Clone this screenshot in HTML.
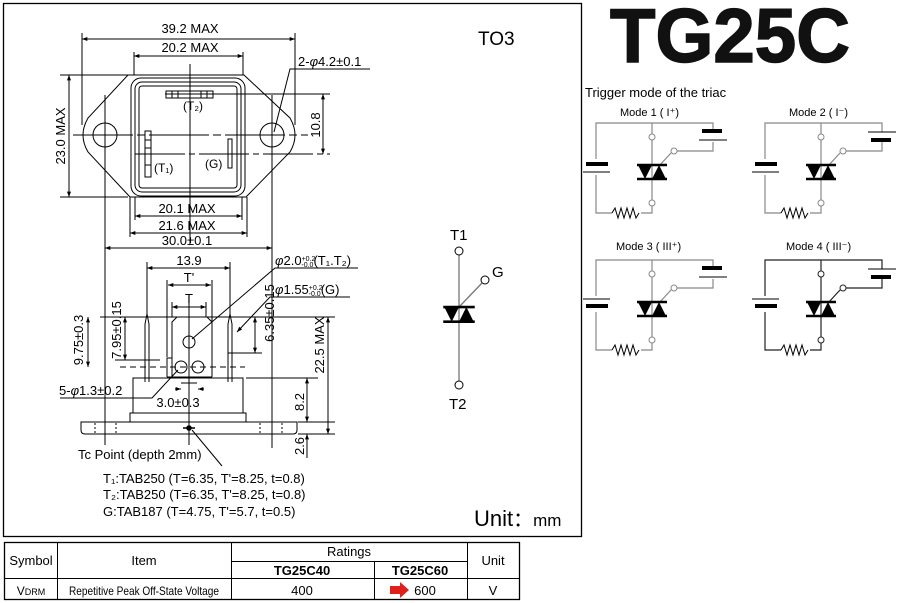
<!DOCTYPE html>
<html><head><meta charset="utf-8"><style>
html,body{margin:0;padding:0;background:#fff;}
svg{display:block;font-family:"Liberation Sans",Arial,sans-serif;}
</style></head><body>
<svg width="898" height="603" viewBox="0 0 898 603" xmlns="http://www.w3.org/2000/svg">
<defs>
<marker id="a" viewBox="0 0 8 6" refX="8" refY="3" markerWidth="6" markerHeight="4" orient="auto-start-reverse"><path d="M0,0L8,3L0,6z" fill="#000"/></marker>
<g id="triac">
<line x1="-15" y1="0" x2="15" y2="0" stroke="#000" stroke-width="2.5"/>
<line x1="-15" y1="14" x2="15" y2="14" stroke="#000" stroke-width="2.5"/>
<path d="M-14,0L0,0L-7,14z" fill="#000"/>
<path d="M0,14L14,14L7,0z" fill="#000"/>
</g>
<g id="zz"><path d="M0,0l3,-5l3,10l3,-10l3,10l3,-10l3,10l3,-10l3,10l3,-5" fill="none" stroke="#000" stroke-width="1"/></g>
</defs>
<rect x="3.5" y="3.5" width="578" height="533" fill="none" stroke="#000" stroke-width="1.3"/>

<g fill="none" stroke="#000" stroke-width="1">
<path d="M128,75 L244,75 L290,118 Q300,135 290,152 L246,197 L130,197 L88,152 Q78,135 88,118 Z"/>
<rect x="131" y="78" width="114" height="118" rx="10"/>
<rect x="135" y="82" width="106" height="110" rx="7"/>
<rect x="139" y="86" width="98" height="102" rx="3"/>
<circle cx="105" cy="135" r="12"/><circle cx="272" cy="135" r="12"/>
<rect x="166" y="91" width="47" height="7"/>
<line x1="172" y1="91" x2="172" y2="98"/><line x1="178" y1="91" x2="178" y2="98"/><line x1="201" y1="91" x2="201" y2="98"/><line x1="207" y1="91" x2="207" y2="98"/>
<rect x="145" y="131" width="6" height="46"/>
<line x1="145" y1="140" x2="151" y2="140"/><line x1="145" y1="148" x2="151" y2="148"/><line x1="145" y1="165" x2="151" y2="165"/>
<rect x="228" y="139" width="4" height="29"/>
<line x1="190" y1="64" x2="190" y2="245"/>
<line x1="73" y1="135" x2="308" y2="135" stroke-dasharray="60,4,8,4"/>
<line x1="135" y1="154" x2="330" y2="154" stroke-dasharray="50,4,6,4"/>
<line x1="165" y1="94" x2="330" y2="94"/>
<line x1="60" y1="75" x2="128" y2="75"/><line x1="60" y1="197" x2="128" y2="197"/>
<line x1="82" y1="33" x2="82" y2="125"/><line x1="295" y1="33" x2="295" y2="125"/>
<line x1="134" y1="52" x2="134" y2="75"/><line x1="243" y1="52" x2="243" y2="75"/>
<line x1="135" y1="197" x2="135" y2="220"/><line x1="242" y1="197" x2="242" y2="220"/>
<line x1="130" y1="197" x2="130" y2="237"/><line x1="247" y1="197" x2="247" y2="237"/>
<line x1="105" y1="95" x2="105" y2="445"/><line x1="272" y1="95" x2="272" y2="448"/>
<line x1="82" y1="39" x2="295" y2="39" marker-start="url(#a)" marker-end="url(#a)"/>
<line x1="134" y1="56" x2="243" y2="56" marker-start="url(#a)" marker-end="url(#a)"/>
<line x1="69" y1="75" x2="69" y2="197" marker-start="url(#a)" marker-end="url(#a)"/>
<line x1="323" y1="94" x2="323" y2="154" marker-start="url(#a)" marker-end="url(#a)"/>
<line x1="135" y1="216" x2="242" y2="216" marker-start="url(#a)" marker-end="url(#a)"/>
<line x1="130" y1="233" x2="247" y2="233" marker-start="url(#a)" marker-end="url(#a)"/>
<line x1="105" y1="248" x2="272" y2="248" marker-start="url(#a)" marker-end="url(#a)"/>
<path d="M370,69 L290,69 L274,132"/>

<line x1="147" y1="262" x2="147" y2="317"/><line x1="230" y1="262" x2="230" y2="317"/>
<line x1="167" y1="280" x2="167" y2="357"/><line x1="212" y1="280" x2="212" y2="357"/>
<line x1="172" y1="302" x2="172" y2="317"/><line x1="206" y1="302" x2="206" y2="317"/>
<line x1="147" y1="268" x2="230" y2="268" marker-start="url(#a)" marker-end="url(#a)"/>
<line x1="168" y1="285" x2="211" y2="285" marker-start="url(#a)" marker-end="url(#a)"/>
<line x1="172" y1="307" x2="206" y2="307" marker-start="url(#a)" marker-end="url(#a)"/>
<path d="M145,382 L145,324 L147,314 L149,324 L149,382"/>
<path d="M228,382 L228,324 L230,314 L232,324 L232,382"/>
<path d="M172,377 L172,358 L167,358 L167,377 M172,358 L172,322 L177,317 L207,317 L212,322 L212,377"/>
<line x1="167" y1="377" x2="212" y2="377"/>
<circle cx="189" cy="342" r="6"/><circle cx="181" cy="367" r="6"/><circle cx="198" cy="367" r="6"/>
<line x1="189" y1="300" x2="189" y2="383"/>
<rect x="133" y="378" width="110" height="35"/>
<rect x="130" y="413" width="116" height="9"/>
<path d="M81,422 L297,422 L297,430 Q297,434 293,434 L85,434 Q81,434 81,430 Z"/>
<line x1="95" y1="423" x2="95" y2="433" stroke-dasharray="2,2"/><line x1="116" y1="423" x2="116" y2="433" stroke-dasharray="2,2"/>
<line x1="260" y1="423" x2="260" y2="433" stroke-dasharray="2,2"/><line x1="282" y1="423" x2="282" y2="433" stroke-dasharray="2,2"/>
<line x1="189" y1="380" x2="189" y2="445"/>
<line x1="181" y1="383" x2="197" y2="383"/>
<line x1="100" y1="317" x2="335" y2="317"/>
<line x1="120" y1="367" x2="245" y2="367" stroke-dasharray="6,4"/>
<line x1="115" y1="360" x2="160" y2="360"/><line x1="228" y1="353" x2="262" y2="353"/>
<line x1="246" y1="378" x2="318" y2="378"/>
<line x1="298" y1="422" x2="335" y2="422"/><line x1="298" y1="434" x2="335" y2="434"/>
<line x1="88" y1="317" x2="88" y2="367" marker-start="url(#a)" marker-end="url(#a)"/>
<line x1="125" y1="317" x2="125" y2="360" marker-start="url(#a)" marker-end="url(#a)"/>
<line x1="255" y1="317" x2="255" y2="353" marker-start="url(#a)" marker-end="url(#a)"/>
<line x1="328" y1="317" x2="328" y2="434" marker-start="url(#a)" marker-end="url(#a)"/>
<line x1="307" y1="378" x2="307" y2="422" marker-start="url(#a)" marker-end="url(#a)"/>
<line x1="307" y1="434" x2="307" y2="458"/>
<line x1="307" y1="444" x2="307" y2="434" marker-end="url(#a)"/>
<line x1="175" y1="389" x2="181" y2="389" marker-end="url(#a)"/><line x1="204" y1="389" x2="198" y2="389" marker-end="url(#a)"/>
<path d="M358,268 L275,268 L192,339" />
<path d="M350,297 L270,297 L237,332" marker-end="url(#a)"/>
<path d="M60,398 L152,398 L178,370"/>
<path d="M222,466 L192,430"/>
</g>
<g stroke="#000" stroke-width="1.5"><line x1="183" y1="428" x2="195" y2="428"/><circle cx="189" cy="428" r="2" fill="#000"/></g>

<g font-size="13" fill="#000">
<text x="190" y="33" text-anchor="middle">39.2 MAX</text>
<text x="190" y="52" text-anchor="middle">20.2 MAX</text>
<text x="298" y="66">2-<tspan font-style="italic">φ</tspan>4.2±0.1</text>
<text x="193" y="110" text-anchor="middle" font-size="12">(T₂)</text>
<text x="154" y="172" font-size="12">(T₁)</text>
<text x="205" y="168" font-size="12">(G)</text>
<text transform="translate(65,136) rotate(-90)" text-anchor="middle">23.0 MAX</text>
<text transform="translate(320,125) rotate(-90)" text-anchor="middle">10.8</text>
<text x="187" y="213" text-anchor="middle">20.1 MAX</text>
<text x="187" y="230" text-anchor="middle">21.6 MAX</text>
<text x="187" y="245" text-anchor="middle">30.0±0.1</text>
<text x="189" y="265" text-anchor="middle">13.9</text>
<text x="189" y="282" text-anchor="middle">T'</text>
<text x="189" y="303" text-anchor="middle">T</text>
<text x="275" y="265"><tspan font-style="italic">φ</tspan>2.0<tspan font-size="7" dy="-4">+0.2</tspan><tspan font-size="7" dx="-14" dy="6">-0.0</tspan><tspan dy="-2">(T₁.T₂)</tspan></text>
<text x="275" y="294"><tspan font-style="italic">φ</tspan>1.55<tspan font-size="7" dy="-4">+0.2</tspan><tspan font-size="7" dx="-14" dy="6">-0.0</tspan><tspan dy="-2">(G)</tspan></text>
<text transform="translate(83,340) rotate(-90)" text-anchor="middle">9.75±0.3</text>
<text transform="translate(121,330) rotate(-90)" text-anchor="middle">7.95±0.15</text>
<text transform="translate(274,313) rotate(-90)" text-anchor="middle">6.35±0.15</text>
<text transform="translate(324,345) rotate(-90)" text-anchor="middle">22.5 MAX</text>
<text transform="translate(304,402) rotate(-90)" text-anchor="middle">8.2</text>
<text transform="translate(304,446) rotate(-90)" text-anchor="middle">2.6</text>
<text x="59" y="395">5-<tspan font-style="italic">φ</tspan>1.3±0.2</text>
<text x="178" y="407" text-anchor="middle">3.0±0.3</text>
<text x="78" y="459">Tc Point (depth 2mm)</text>
<text x="103" y="483">T₁:TAB250 (T=6.35, T'=8.25, t=0.8)</text>
<text x="103" y="499">T₂:TAB250 (T=6.35, T'=8.25, t=0.8)</text>
<text x="103" y="516">G:TAB187 (T=4.75, T'=5.7, t=0.5)</text>
</g>
<text x="478" y="45" font-size="19">TO3</text>
<text x="474" y="526" font-size="22">Unit<tspan font-size="20">：</tspan><tspan font-size="17">mm</tspan></text>

<g stroke="#777" stroke-width="1.3" fill="none">
<line x1="459" y1="255" x2="459" y2="381"/>
<line x1="459" y1="307" x2="482" y2="283"/>
</g>
<g stroke="#000" fill="#fff" stroke-width="1"><circle cx="459" cy="251" r="4"/><circle cx="485" cy="280" r="4"/><circle cx="459" cy="385" r="4"/></g>
<g transform="translate(459,307) scale(1.05)"><use href="#triac"/></g>
<text x="450" y="240" font-size="15">T1</text>
<text x="492" y="277" font-size="15">G</text>
<text x="449" y="409" font-size="15">T2</text>

<text x="610" y="62" font-size="76" font-weight="bold" textLength="240" lengthAdjust="spacingAndGlyphs" fill="#111" stroke="#111" stroke-width="1.5">TG25C</text>
<text x="585" y="97" font-size="13">Trigger mode of the triac</text>

<g>
<g stroke="#888" stroke-width="1.2" fill="none">
<polyline points="596,159 596,123 713,123 713,130"/>
<polyline points="596,175 596,213 612,213"/>
<polyline points="641,213 652,213 652,206"/>
<line x1="652" y1="123" x2="652" y2="134"/>
<line x1="652" y1="140" x2="652" y2="200"/>
<line x1="659" y1="166" x2="671" y2="153"/>
<polyline points="676,151 713,151 713,142"/>
</g>
<g fill="#000"><rect x="586" y="162" width="22" height="4"/><rect x="702" y="129" width="20" height="4"/></g>
<line x1="583" y1="172" x2="610" y2="172" stroke="#000"/><line x1="699" y1="140" x2="727" y2="140" stroke="#000"/>
<g transform="translate(612,213)"><use href="#zz"/></g>
<g transform="translate(652,165)"><use href="#triac"/></g>
<g stroke="#888" fill="#fff"><circle cx="652" cy="137" r="3"/><circle cx="652" cy="203" r="3"/><circle cx="674" cy="151" r="3"/></g>
</g>
<text x="620" y="116" font-size="11">Mode 1 ( I⁺)</text>
<g transform="translate(169,0)">
<g stroke="#888" stroke-width="1.2" fill="none">
<polyline points="596,159 596,123 713,123 713,132"/>
<polyline points="596,175 596,213 612,213"/>
<polyline points="641,213 652,213 652,206"/>
<line x1="652" y1="123" x2="652" y2="134"/>
<line x1="652" y1="140" x2="652" y2="200"/>
<line x1="659" y1="166" x2="671" y2="153"/>
<polyline points="676,151 713,151 713,142"/>
</g>
<g fill="#000"><rect x="586" y="162" width="22" height="4"/><rect x="702" y="138" width="20" height="4"/></g>
<line x1="583" y1="172" x2="610" y2="172" stroke="#000"/><line x1="699" y1="132" x2="727" y2="132" stroke="#000"/>
<g transform="translate(612,213)"><use href="#zz"/></g>
<g transform="translate(652,165)"><use href="#triac"/></g>
<g stroke="#888" fill="#fff"><circle cx="652" cy="137" r="3"/><circle cx="652" cy="203" r="3"/><circle cx="674" cy="151" r="3"/></g>
</g>
<text x="789" y="116" font-size="11">Mode 2 ( I⁻)</text>
<g transform="translate(0,137)">
<g stroke="#888" stroke-width="1.2" fill="none">
<polyline points="596,159 596,123 713,123 713,130"/>
<polyline points="596,175 596,213 612,213"/>
<polyline points="641,213 652,213 652,206"/>
<line x1="652" y1="123" x2="652" y2="134"/>
<line x1="652" y1="140" x2="652" y2="200"/>
<line x1="659" y1="166" x2="671" y2="153"/>
<polyline points="676,151 713,151 713,142"/>
</g>
<g fill="#000"><rect x="586" y="167" width="22" height="4"/><rect x="702" y="129" width="20" height="4"/></g>
<line x1="583" y1="162" x2="610" y2="162" stroke="#000"/><line x1="699" y1="140" x2="727" y2="140" stroke="#000"/>
<g transform="translate(612,213)"><use href="#zz"/></g>
<g transform="translate(652,165)"><use href="#triac"/></g>
<g stroke="#888" fill="#fff"><circle cx="652" cy="137" r="3"/><circle cx="652" cy="203" r="3"/><circle cx="674" cy="151" r="3"/></g>
</g>
<text x="616" y="250" font-size="11">Mode 3 ( III⁺)</text>
<g transform="translate(169,137)">
<g stroke="#222" stroke-width="1.2" fill="none">
<polyline points="596,159 596,123 713,123 713,132"/>
<polyline points="596,175 596,213 612,213"/>
<polyline points="641,213 652,213 652,206"/>
<line x1="652" y1="123" x2="652" y2="134"/>
<line x1="652" y1="140" x2="652" y2="200"/>
<line x1="659" y1="166" x2="671" y2="153"/>
<polyline points="676,151 713,151 713,142"/>
</g>
<g fill="#000"><rect x="586" y="167" width="22" height="4"/><rect x="702" y="138" width="20" height="4"/></g>
<line x1="583" y1="162" x2="610" y2="162" stroke="#000"/><line x1="699" y1="132" x2="727" y2="132" stroke="#000"/>
<g transform="translate(612,213)"><use href="#zz"/></g>
<g transform="translate(652,165)"><use href="#triac"/></g>
<g stroke="#222" fill="#fff"><circle cx="652" cy="137" r="3"/><circle cx="652" cy="203" r="3"/><circle cx="674" cy="151" r="3"/></g>
</g>
<text x="786" y="250" font-size="11">Mode 4 ( III⁻)</text>

<g stroke="#000" stroke-width="1" fill="none">
<rect x="4.5" y="542.5" width="515" height="57" stroke-width="1.3"/>
<line x1="57.5" y1="542" x2="57.5" y2="600"/>
<line x1="231.5" y1="542" x2="231.5" y2="600"/>
<line x1="467.5" y1="542" x2="467.5" y2="600"/>
<line x1="374.5" y1="561" x2="374.5" y2="600"/>
<line x1="231" y1="561.5" x2="467" y2="561.5"/>
<line x1="4" y1="578.5" x2="520" y2="578.5"/>
</g>
<g font-size="13" text-anchor="middle">
<text x="31" y="565">Symbol</text>
<text x="144" y="565">Item</text>
<text x="349" y="556">Ratings</text>
<text x="302" y="575" font-weight="bold">TG25C40</text>
<text x="420" y="575" font-weight="bold">TG25C60</text>
<text x="493" y="565">Unit</text>
<text x="31" y="595" font-size="12">V<tspan font-size="9">DRM</tspan></text>
<text x="144" y="595" font-size="12" textLength="150" lengthAdjust="spacingAndGlyphs">Repetitive Peak Off-State Voltage</text>
<text x="302" y="595">400</text>
<text x="425" y="595">600</text>
<text x="493" y="595">V</text>
</g>
<path d="M390,586 L400,586 L400,582 L409,590 L400,598 L400,594 L390,594 Z" fill="#e0201a"/>
</svg>
</body></html>
